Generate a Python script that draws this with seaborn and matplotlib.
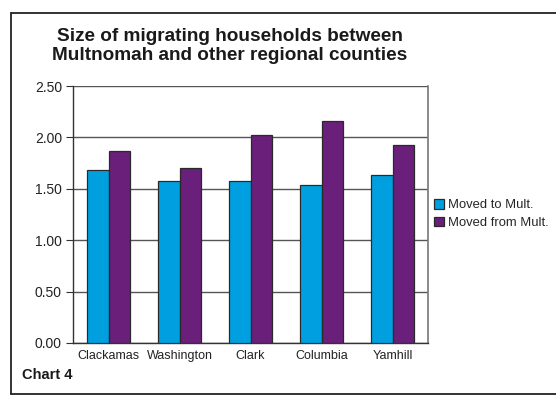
import matplotlib
matplotlib.use("Agg")
import matplotlib.pyplot as plt
from matplotlib.lines import Line2D
import seaborn as sns
import pandas as pd

counties = ["Clackamas", "Washington", "Clark", "Columbia", "Yamhill"]
moved_to = [1.68, 1.58, 1.58, 1.54, 1.63]
moved_from = [1.87, 1.70, 2.02, 2.16, 1.93]
series_names = ["Moved to Mult.", "Moved from Mult."]
y_ticks = [0.0, 0.5, 1.0, 1.5, 2.0, 2.5]
y_tick_labels = ["0.00", "0.50", "1.00", "1.50", "2.00", "2.50"]

df = pd.DataFrame({
    "county": counties * 2,
    "value": moved_to + moved_from,
    "series": [series_names[0]] * len(counties) + [series_names[1]] * len(counties),
})

sns.set_style("white")
plt.rcParams["font.family"] = ["Liberation Sans", "DejaVu Sans"]

W, H = 556, 396
fig = plt.figure(figsize=(W / 100, H / 100), dpi=100)
ax = fig.add_axes([73 / W, 1 - 343 / H, (428 - 73) / W, (343 - 86) / H])

sns.barplot(data=df, x="county", y="value", hue="series", order=counties,
            hue_order=series_names, palette=["#00A0E0", "#6A1F7A"],
            width=0.6, edgecolor="#2a2a2a", linewidth=0.9, saturation=1,
            ax=ax, zorder=3)

ax.set_xlim(-0.5, len(counties) - 0.5)
ax.set_ylim(0, 2.5)
ax.set_yticks(y_ticks)
ax.set_yticklabels(y_tick_labels, fontsize=10, color="#222222")
ax.yaxis.grid(True, color="#555555", linewidth=1.0, zorder=0)
ax.set_axisbelow(True)
ax.tick_params(axis="y", direction="out", length=5, width=0.8, color="#333333", pad=3, left=True)

ax.set_xticks(range(len(counties)))
ax.set_xticklabels(counties, fontsize=9, color="#222222")
ax.tick_params(axis="x", which="major", length=0, pad=5)
ax.set_xticks([i - 0.5 for i in range(len(counties) + 1)], minor=True)
ax.tick_params(axis="x", which="minor", direction="out", length=4, width=0.8, color="#333333")
ax.set_xlabel("")
ax.set_ylabel("")

for s in ["left", "bottom"]:
    ax.spines[s].set_color("#333333")
    ax.spines[s].set_linewidth(1.0)
ax.spines["right"].set_color("#777777")
ax.spines["right"].set_linewidth(1.2)
ax.spines["top"].set_visible(False)

handles, labels = ax.get_legend_handles_labels()
ax.legend(handles, labels, loc="center left", bbox_to_anchor=(434 / W, 1 - 214 / H),
          bbox_transform=fig.transFigure, frameon=False, fontsize=9.4,
          handlelength=0.75, handleheight=0.75, handletextpad=0.35, labelspacing=0.4,
          borderaxespad=0, borderpad=0)

fig.text(230 / W, 1 - 28 / H, "Size of migrating households between\nMultnomah and other regional counties",
         ha="center", va="top", fontsize=13.7, fontweight="bold", linespacing=1.13, color="#1a1a1a")
fig.text(22 / W, 1 - 375 / H, "Chart 4", ha="left", va="center", fontsize=10.5, fontweight="bold", color="#1a1a1a")

# frame
fig.add_artist(Line2D([10.5 / W, 10.5 / W], [1 - 12.5 / H, 1 - 394 / H], transform=fig.transFigure, color="#222222", lw=1.3))
fig.add_artist(Line2D([10.5 / W, 1.0], [1 - 12.5 / H, 1 - 12.5 / H], transform=fig.transFigure, color="#222222", lw=1.3))
fig.add_artist(Line2D([10.5 / W, 1.0], [1 - 394 / H, 1 - 394 / H], transform=fig.transFigure, color="#222222", lw=1.3))

fig.savefig("out.png", dpi=100)
